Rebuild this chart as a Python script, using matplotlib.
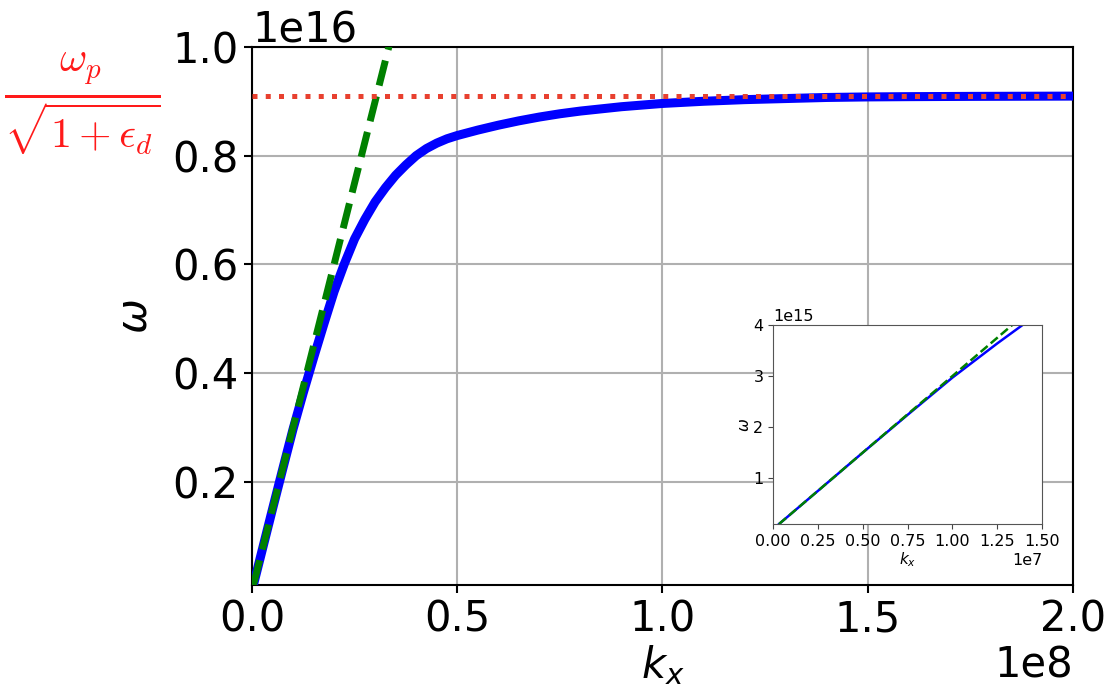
import matplotlib
matplotlib.use("Agg")
import matplotlib.pyplot as plt
import matplotlib.transforms as mtransforms
from matplotlib.ticker import MultipleLocator

# Surface plasmon dispersion
k_x = [3.3e5, 2.5e6, 5.0e6, 7.5e6, 1.0e7, 1.25e7, 1.5e7, 1.75e7, 2.0e7,
       2.25e7, 2.5e7, 2.75e7, 3.0e7, 3.25e7, 3.5e7, 3.75e7, 4.0e7, 4.25e7,
       4.5e7, 4.75e7, 5.0e7, 5.5e7, 6.0e7, 6.5e7, 7.0e7, 7.5e7, 8.0e7, 9.0e7,
       1.0e8, 1.1e8, 1.2e8, 1.3e8, 1.4e8, 1.5e8, 1.6e8, 1.75e8, 2.0e8]
omega = [1.0e14, 7.5e14, 1.50e15, 2.24e15, 2.97e15, 3.64e15, 4.28e15, 4.90e15,
         5.50e15, 6.01e15, 6.47e15, 6.83e15, 7.15e15, 7.41e15, 7.64e15,
         7.83e15, 8.00e15, 8.13e15, 8.23e15, 8.31e15, 8.37e15, 8.47e15,
         8.56e15, 8.64e15, 8.71e15, 8.77e15, 8.82e15, 8.90e15, 8.96e15,
         9.00e15, 9.03e15, 9.05e15, 9.07e15, 9.08e15, 9.085e15, 9.09e15,
         9.095e15]
# light line endpoints
light_k = [3.3e5, 3.45e7]
light_omega = [1e14, 1.035e16]
# surface plasmon limit
omega_sp = 9.09e15

fig = plt.figure(figsize=(11.14, 7.0), dpi=100)
ax = fig.add_axes([0.2262, 0.164, 0.7370, 0.769])

ax.plot(k_x, omega, color='#0000ff', lw=6.5, zorder=3, solid_joinstyle='round')
ax.plot(light_k, light_omega, color='#008000', lw=5, ls='--', zorder=4)
ax.axhline(omega_sp, color='#e8402f', lw=3.6, ls=':', zorder=5)

ax.set_xlim(0, 2e8)
ax.set_ylim(1e14, 1e16)
ax.grid(True, color='#b0b0b0', lw=1.5)
ax.tick_params(labelsize=30, length=6, width=1.5)
for s in ax.spines.values():
    s.set_linewidth(1.5)
ax.xaxis.get_offset_text().set_fontsize(30)
ax.yaxis.get_offset_text().set_fontsize(30)
ax.set_xlabel(r'$k_x$', fontsize=30, labelpad=2)
ax.set_ylabel(r'$\omega$', fontsize=30, labelpad=12)

trans = mtransforms.blended_transform_factory(ax.transAxes, ax.transData)
trans = mtransforms.offset_copy(trans, fig=fig, x=0, y=-8, units='dots')
ax.text(-0.112, omega_sp, r'$\frac{\omega_p}{\sqrt{1+\epsilon_d}}$',
        color='#ff1a1a', fontsize=43, ha='right', va='center',
        transform=trans, clip_on=False, math_fontfamily='cm')

# inset
ins = fig.add_axes([0.694, 0.2514, 0.2415, 0.2843])
ins.plot(k_x, omega, color='#0000ff', lw=1.8)
ins.plot(light_k, light_omega, color='#008000', lw=1.8, ls='--')
ins.set_xlim(0, 1.5e7)
ins.set_ylim(1e14, 4e15)
ins.xaxis.set_major_locator(MultipleLocator(0.25e7))
ins.yaxis.set_major_locator(MultipleLocator(1e15))
ins.tick_params(labelsize=11.5, color='#444444')
ins.xaxis.get_offset_text().set_fontsize(11.5)
ins.yaxis.get_offset_text().set_fontsize(11.5)
for s in ins.spines.values():
    s.set_color('#555555')
ins.set_xlabel(r'$k_x$', fontsize=11, labelpad=1)
ins.set_ylabel(r'$\omega$', fontsize=11, labelpad=1)

fig.savefig('out.png', dpi=100)
